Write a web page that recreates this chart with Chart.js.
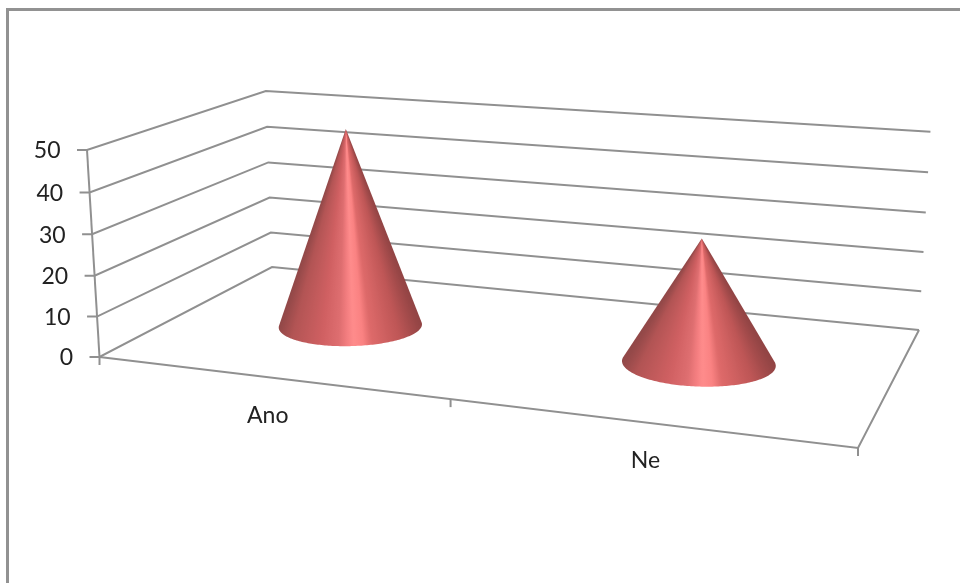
<!DOCTYPE html>
<html>
<head>
<meta charset="utf-8">
<title>Ano / Ne</title>
<script src="https://cdn.jsdelivr.net/npm/chart.js@4"></script>
<style>
  html, body { margin: 0; padding: 0; background: #fff; }
  #wrap { position: relative; width: 960px; height: 583px; overflow: hidden; }
  #frame { position: absolute; left: 6px; top: 8px; width: 960px; height: 600px;
           border-left: 3px solid #929292; border-top: 3px solid #929292; }
  canvas { position: absolute; left: 0; top: 0; filter: blur(0.4px); }
</style>
</head>
<body>
<div id="wrap">
  <div id="frame"></div>
  <canvas id="coneChart" width="960" height="583"></canvas>
</div>
<script>
// ---------- Data ----------
const categories = ['Ano', 'Ne'];
const values = [50, 30];
const yTicks = [0, 10, 20, 30, 40, 50];

// ---------- Look ----------
const lineColor = '#909090';
const textColor = '#222222';
const labelFont = '23px Lato';
// colour across the cone, -1 = left edge, 1 = right edge
const coneShade = [
  [-1, [146, 72, 72]], [-0.82, [178, 84, 84]], [-0.4, [208, 96, 98]], [-0.16, [222, 110, 112]],
  [-0.04, [244, 126, 128]], [0.05, [255, 140, 140]], [0.18, [250, 130, 130]], [0.3, [222, 106, 106]],
  [0.7, [190, 86, 86]], [1, [146, 68, 68]]
];

// ---------- Perspective box ----------
// screen corners of the floor and the top of the front axis
const floorFL = [99.5, 357], floorFR = [858, 448], floorBR = [919, 330], floorBL = [272, 267];
const axisTop = [87, 150];
const heightFade = -0.029;
const depthRatio = 2;   // cone base is a circle on a floor deeper than wide

function makeProjection() {
  const [ax, ay] = floorFL, [bx, by] = floorFR, [cx, cy] = floorBR, [dx, dy] = floorBL;
  const d1x = bx - cx, d1y = by - cy, d2x = dx - cx, d2y = dy - cy;
  const sx = ax - bx + cx - dx, sy = ay - by + cy - dy;
  const det = d1x * d2y - d2x * d1y;
  const g = (sx * d2y - d2x * sy) / det;
  const h = (d1x * sy - sx * d1y) / det;
  const wx = axisTop[0] * (1 + heightFade) - ax;
  const wy = axisTop[1] * (1 + heightFade) - ay;
  return (u, v, w) => {
    const q = 1 + g * u + h * v + heightFade * w;
    return [
      ((bx - ax + g * bx) * u + (dx - ax + h * dx) * v + wx * w + ax) / q,
      ((by - ay + g * by) * u + (dy - ay + h * dy) * v + wy * w + ay) / q
    ];
  };
}
const project = makeProjection();

function shadeAt(t) {
  for (let i = 1; i < coneShade.length; i++) {
    if (t <= coneShade[i][0]) {
      const [t0, c0] = coneShade[i - 1], [t1, c1] = coneShade[i];
      const k = Math.max(0, (t - t0) / (t1 - t0));
      return 'rgb(' + c0.map((c, n) => Math.round(c + (c1[n] - c) * k)).join(',') + ')';
    }
  }
  return 'rgb(' + coneShade[coneShade.length - 1][1].join(',') + ')';
}

function polyline(ctx, pts) {
  ctx.beginPath();
  pts.forEach((p, i) => i ? ctx.lineTo(p[0], p[1]) : ctx.moveTo(p[0], p[1]));
  ctx.stroke();
}

// ---------- Plugin: box behind the cones, cones on top ----------
const box3d = {
  id: 'box3d',
  beforeDatasetsDraw(chart) {
    const { ctx, scales: { x, y } } = chart;
    const n = categories.length;
    ctx.save();
    ctx.strokeStyle = lineColor;
    ctx.lineWidth = 2;

    // walls, one line per y tick
    y.ticks.forEach(tick => {
      const w = (y.bottom - y.getPixelForValue(tick.value)) / y.height;
      const front = project(0, 0, w);
      polyline(ctx, [[front[0] - 10, front[1]], front, project(0, 1, w), project(1, 1, w)]);
    });
    polyline(ctx, [project(0, 0, 0), project(0, 0, 1)]);

    // floor and its category ticks
    polyline(ctx, [project(0, 0, 0), project(1, 0, 0), project(1, 1, 0)]);
    for (let i = 0; i <= n; i++) {
      const p = project(i / n, 0, 0);
      polyline(ctx, [p, [p[0], p[1] + 8]]);
    }

    // tick labels
    ctx.fillStyle = textColor;
    ctx.font = labelFont;
    ctx.textBaseline = 'middle';
    ctx.textAlign = 'right';
    y.ticks.forEach(tick => {
      const w = (y.bottom - y.getPixelForValue(tick.value)) / y.height;
      const p = project(0, 0, w);
      ctx.fillText(String(tick.value), p[0] - 26.5, p[1] + 1);
    });
    ctx.textAlign = 'center';
    categories.forEach((name, i) => {
      const u = (x.getPixelForValue(i) - x.left) / x.width;
      const p = project(u, 0, 0);
      ctx.fillText(name, p[0] - 1, p[1] + 38);
    });
    ctx.restore();
  },
  afterDatasetsDraw(chart) {
    const { ctx, scales: { x, y } } = chart;
    ctx.save();
    chart.getDatasetMeta(0).data.forEach(bar => {
      const u = (bar.x - x.left) / x.width;
      const ru = bar.width / 2 / x.width;
      const w = (y.bottom - bar.y) / y.height;
      const apex = project(u, 0.5, w);

      // rim of the base, starting at the back so the front arc stays in one run
      const rim = [];
      for (let i = 0; i <= 240; i++) {
        const t = Math.PI / 2 + i / 240 * Math.PI * 2;
        rim.push(project(u + ru * Math.cos(t), 0.5 + depthRatio * ru * Math.sin(t), 0));
      }
      const xs = rim.map(p => p[0]);
      const minX = Math.min(...xs), maxX = Math.max(...xs);

      // keep the part of the rim that faces the viewer
      const front = rim.filter((a, i) => {
        const b = rim[i + 1] || rim[1];
        return (a[0] - apex[0]) * (b[1] - apex[1]) - (a[1] - apex[1]) * (b[0] - apex[0]) < 0;
      });

      // shade fans out of the apex, so a conic gradient does it without seams
      const gradient = ctx.createConicGradient(0, apex[0], apex[1]);
      front.map(p => ({
        at: Math.atan2(p[1] - apex[1], p[0] - apex[0]) / (Math.PI * 2),
        colour: shadeAt((p[0] - minX) / (maxX - minX) * 2 - 1)
      })).sort((a, b) => a.at - b.at).forEach(s => gradient.addColorStop(s.at, s.colour));

      ctx.fillStyle = gradient;
      ctx.beginPath();
      ctx.moveTo(apex[0], apex[1]);
      front.forEach(p => ctx.lineTo(p[0], p[1]));
      ctx.closePath();
      ctx.fill();
    });
    ctx.restore();
  }
};

// ---------- Chart setup ----------
new Chart(document.getElementById('coneChart').getContext('2d'), {
  type: 'bar',
  data: {
    labels: categories,
    datasets: [{
      label: 'Values',
      data: values,
      backgroundColor: 'rgba(0,0,0,0)',
      barPercentage: 0.4,
      categoryPercentage: 1
    }]
  },
  options: {
    responsive: false,
    animation: false,
    layout: { padding: { left: 100, right: 102, top: 150, bottom: 135 } },
    plugins: { legend: { display: false }, tooltip: { enabled: false } },
    scales: {
      x: { display: false },
      y: { display: false, min: yTicks[0], max: yTicks[yTicks.length - 1], ticks: { stepSize: 10 } }
    }
  },
  plugins: [box3d]
});
</script>
</body>
</html>
